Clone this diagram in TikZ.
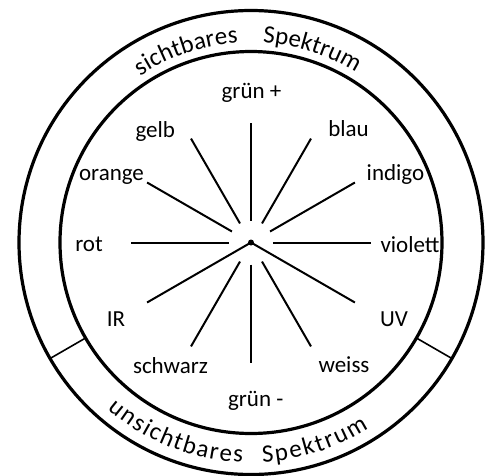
\documentclass[tikz,border=0pt]{standalone}
\usepackage{fontspec}
\setmainfont{Carlito}
\usetikzlibrary{decorations.text,calc}
\newcommand{\lblfont}{\fontsize{23}{27}\selectfont}
\newcommand{\arcfont}{\fontsize{25}{29}\selectfont}
\begin{document}
\begin{tikzpicture}[x=1pt,y=1pt,
  lbl/.style={font=\lblfont, anchor=base, inner sep=0pt},
  ring/.style={line width=3.2pt},
  spoke/.style={line width=2pt},
  divider/.style={line width=1.6pt},
  arctext/.style={decorate, decoration={text along path, text align={fit to path}, text={|\arcfont|#1}}}]
\useasboundingbox (-251,-232.5) rectangle (247,242.5);
\coordinate (c) at (0,0);
% rings
\draw[ring] (c) circle[radius=232];
\draw[ring] (c) circle[radius=191];
% dividers
\draw[divider] ($(c)+(210:191)$) -- ($(c)+(210:232)$);
\draw[divider] ($(c)+(330:191)$) -- ($(c)+(330:232)$);
% spokes
\foreach \a in {0,30,60,90,120,150,180,240,270,300}
  \draw[spoke] ($(c)+(\a:22)$) -- ($(c)+(\a:120)$);
\draw[spoke] (c) -- ($(c)+(210:120)$);
\draw[spoke] (c) -- ($(c)+(330:120)$);
\fill (c) circle[radius=3];
% labels
\node[lbl] (gp) at (0.5,144.5) {grün +};
\node[lbl] (ge) at (-95.7,105.2) {gelb};
\node[lbl] (or) at (-139.5,62.5) {orange};
\node[lbl] (bl) at (97.5,105.8) {blau};
\node[lbl] (in) at (144.5,62.5) {indigo};
\node[lbl] (ro) at (-162,-9.2) {rot};
\node[lbl] (vi) at (159,-9.8) {violett};
\node[lbl] (ir) at (-135,-84.2) {IR};
\node[lbl] (uv) at (143,-84.2) {UV};
\node[lbl] (sc) at (-80.5,-130.8) {schwarz};
\node[lbl] (we) at (93,-130.2) {weiss};
\node[lbl] (gm) at (4.7,-164.2) {grün -};
% curved texts
\path[arctext=sichtbares] (123.7:200) arc[start angle=123.7, end angle=93.7, radius=200];
\path[arctext=Spektrum] (86.6:200) arc[start angle=86.6, end angle=58.5, radius=200];
\path[arctext=unsichtbares] (229.4:220) arc[start angle=229.4, end angle=267.8, radius=220];
\path[arctext=Spektrum] (273:220) arc[start angle=273, end angle=302.3, radius=220];
\end{tikzpicture}
\end{document}
